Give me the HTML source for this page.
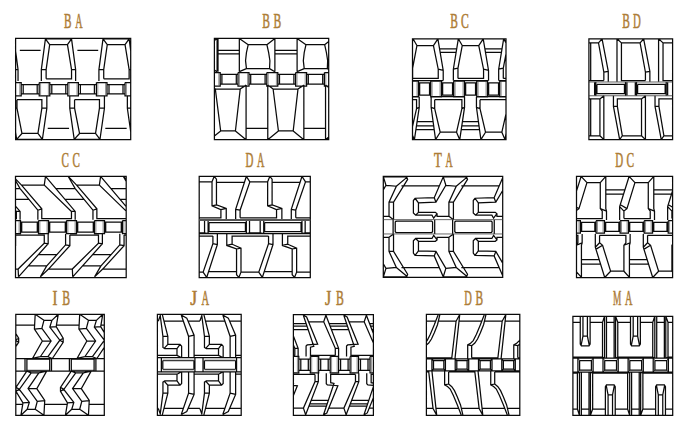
<!DOCTYPE html>
<html><head><meta charset="utf-8"><title>Track patterns</title>
<style>html,body{margin:0;padding:0;background:#fff;}body{width:692px;height:426px;overflow:hidden;font-family:"Liberation Serif",serif;}svg{display:block;}</style>
</head><body>
<svg width="692" height="426" viewBox="0 0 692 426">
<g fill="none" stroke="#0a0a0a" stroke-width="1.25" stroke-linejoin="miter">
<path d="M15.60 38.40 L130.70 38.40 L130.70 139.70 L15.60 139.70 Z M15.60 51.17 L18.04 69.55 L18.04 81.10 M15.60 69.55 L18.04 69.55 M19.82 50.35 L40.62 50.35 M41.33 81.10 L41.33 69.55 L45.42 38.80 L71.54 38.80 L75.63 69.55 L75.63 81.10 M46.13 78.79 L46.13 69.55 L49.68 44.66 L67.46 44.66 L71.54 69.55 L71.54 78.79 L46.13 78.79 M41.33 69.55 L46.13 69.55 M71.54 69.55 L75.63 69.55 M45.42 38.80 L49.68 44.66 M71.54 38.80 L67.46 44.66 M77.41 50.35 L98.21 50.35 M98.92 81.10 L98.92 69.55 L103.01 38.80 L129.13 38.80 L130.70 50.57 M103.72 78.79 L103.72 69.55 L107.27 44.66 L125.05 44.66 L129.13 69.55 L129.13 78.79 L103.72 78.79 M98.92 69.55 L103.72 69.55 M129.13 69.55 L130.70 69.55 M103.01 38.80 L107.27 44.66 M129.13 38.80 L125.05 44.66 M15.60 82.60 L21.20 82.60 L21.20 95.80 L15.60 95.80 M21.20 84.50 L39.20 84.50 M21.20 93.90 L39.20 93.90 M23.20 84.50 L23.20 93.90 M37.20 84.50 L37.20 93.90 M39.20 82.60 L49.80 82.60 L49.80 95.80 L39.20 95.80 L39.20 82.60 M49.80 84.50 L67.80 84.50 M49.80 93.90 L67.80 93.90 M51.80 84.50 L51.80 93.90 M65.80 84.50 L65.80 93.90 M67.80 82.60 L78.40 82.60 L78.40 95.80 L67.80 95.80 L67.80 82.60 M78.40 84.50 L96.40 84.50 M78.40 93.90 L96.40 93.90 M80.40 84.50 L80.40 93.90 M94.40 84.50 L94.40 93.90 M96.40 82.60 L107.00 82.60 L107.00 95.80 L96.40 95.80 L96.40 82.60 M107.00 84.50 L125.00 84.50 M107.00 93.90 L125.00 93.90 M109.00 84.50 L109.00 93.90 M123.00 84.50 L123.00 93.90 M125.00 82.60 L130.70 82.60 M130.70 95.80 L125.00 95.80 L125.00 82.60 M15.60 132.17 L16.62 139.32 L42.39 139.32 L46.84 108.22 L46.84 95.77 M16.98 99.69 L41.86 99.69 L41.86 108.22 L37.95 133.46 L21.95 133.46 L16.98 108.22 L16.98 99.69 M15.60 108.22 L16.98 108.22 M41.86 108.22 L46.84 108.22 M16.62 139.32 L21.95 133.46 M42.39 139.32 L37.95 133.46 M47.73 128.30 L69.06 128.30 M69.77 95.77 L69.77 108.22 L74.21 139.32 L99.98 139.32 L104.43 108.22 L104.43 95.77 M74.57 99.69 L99.45 99.69 L99.45 108.22 L95.54 133.46 L79.54 133.46 L74.57 108.22 L74.57 99.69 M69.77 108.22 L74.57 108.22 M99.45 108.22 L104.43 108.22 M74.21 139.32 L79.54 133.46 M99.98 139.32 L95.54 133.46 M105.32 128.30 L126.65 128.30 M127.36 95.77 L127.36 108.22 L130.70 131.62 M127.36 108.22 L130.70 108.22 M214.40 38.40 L328.70 38.40 L328.70 139.70 L214.40 139.70 Z M217.11 38.44 L217.11 71.68 M217.11 38.44 L214.40 40.55 M217.11 71.68 L214.40 70.15 M217.11 50.35 L239.33 50.35 M217.11 53.91 L239.33 53.91 M239.33 38.44 L239.33 71.68 M274.88 38.44 L274.88 71.68 M248.22 44.66 L266.88 44.66 L268.66 52.66 L269.90 60.66 L269.54 68.66 L246.44 68.66 L245.55 60.66 L246.44 52.66 L248.22 44.66 M239.33 38.44 L248.22 44.66 M274.88 38.44 L266.88 44.66 M239.33 71.68 L246.44 68.66 M274.88 71.68 L269.54 68.66 M274.88 50.35 L297.10 50.35 M274.88 53.91 L297.10 53.91 M297.10 38.44 L297.10 71.68 M305.98 44.66 L324.65 44.66 L326.42 52.66 L327.67 60.66 L327.31 68.66 L304.21 68.66 L303.32 60.66 L304.21 52.66 L305.98 44.66 M297.10 38.44 L305.98 44.66 M328.70 41.51 L324.65 44.66 M297.10 71.68 L304.21 68.66 M328.70 69.45 L327.31 68.66 M218.00 38.44 L218.00 71.68 M214.40 72.50 L220.20 72.50 L220.20 86.00 L214.40 86.00 M220.20 74.30 L238.00 74.30 M220.20 84.20 L238.00 84.20 M221.90 74.30 L221.90 84.20 M236.30 74.30 L236.30 84.20 M238.00 72.50 L249.00 72.50 L249.00 86.00 L238.00 86.00 L238.00 72.50 M249.00 74.30 L266.80 74.30 M249.00 84.20 L266.80 84.20 M250.70 74.30 L250.70 84.20 M265.10 74.30 L265.10 84.20 M266.80 72.50 L277.80 72.50 L277.80 86.00 L266.80 86.00 L266.80 72.50 M277.80 74.30 L295.60 74.30 M277.80 84.20 L295.60 84.20 M279.50 74.30 L279.50 84.20 M293.90 74.30 L293.90 84.20 M295.60 72.50 L306.60 72.50 L306.60 86.00 L295.60 86.00 L295.60 72.50 M306.60 74.30 L324.40 74.30 M306.60 84.20 L324.40 84.20 M308.30 74.30 L308.30 84.20 M322.70 74.30 L322.70 84.20 M324.40 72.50 L328.70 72.50 M328.70 86.00 L324.40 86.00 L324.40 72.50 M246.08 85.11 L246.08 139.68 M215.33 89.02 L240.22 89.02 L235.42 130.97 L220.66 130.97 L215.33 89.02 M214.40 88.34 L215.33 89.02 M246.08 85.11 L240.22 89.02 M214.40 136.08 L220.66 130.97 M246.08 139.68 L235.42 130.97 M246.08 128.30 L267.77 128.30 M267.77 85.11 L267.77 139.68 M303.85 85.11 L303.85 139.68 M273.10 89.02 L297.98 89.02 L293.19 130.97 L278.43 130.97 L273.10 89.02 M267.77 85.11 L273.10 89.02 M303.85 85.11 L297.98 89.02 M267.77 139.68 L278.43 130.97 M303.85 139.68 L293.19 130.97 M303.85 128.30 L325.54 128.30 M325.54 85.11 L325.54 139.68 M325.54 85.11 L328.70 87.43 M325.54 139.68 L328.70 137.09 M412.50 38.80 L506.00 38.80 L506.00 139.70 L412.50 139.70 Z M412.50 41.84 L413.00 38.80 L437.88 38.80 L443.22 70.44 L443.22 80.57 M412.64 78.44 L412.64 68.13 L416.91 45.55 L433.44 45.55 L438.24 69.19 L438.24 78.44 L412.64 78.44 M412.50 68.16 L412.64 68.13 M438.24 69.19 L443.22 70.44 M413.00 38.80 L416.91 45.55 M437.88 38.80 L433.44 45.55 M440.02 48.93 L456.55 48.93 M440.55 52.49 L456.01 52.49 M412.50 80.57 L443.22 80.57 M453.35 80.57 L453.35 69.19 L458.32 38.80 L483.21 38.80 L488.54 70.44 L488.54 80.57 M457.97 78.44 L457.97 68.13 L462.23 45.55 L478.76 45.55 L483.56 69.19 L483.56 78.44 L457.97 78.44 M453.35 69.19 L457.97 68.13 M483.56 69.19 L488.54 70.44 M458.32 38.80 L462.23 45.55 M483.21 38.80 L478.76 45.55 M485.34 48.93 L501.87 48.93 M485.87 52.49 L501.34 52.49 M453.35 80.57 L488.54 80.57 M498.67 80.57 L498.67 69.19 L503.65 38.80 L506.00 38.80 M503.29 78.44 L503.29 68.13 L506.00 53.81 M506.00 78.44 L503.29 78.44 M498.67 69.19 L503.29 68.13 M503.65 38.80 L506.00 42.86 M498.67 80.57 L506.00 80.57 M412.50 81.10 L418.44 81.10 L418.44 96.80 L412.50 96.80 M418.44 82.90 L430.74 82.90 M418.44 95.00 L430.74 95.00 M419.64 82.90 L419.64 95.00 M429.54 82.90 L429.54 95.00 M430.74 81.10 L441.44 81.10 L441.44 96.80 L430.74 96.80 L430.74 81.10 M441.44 82.90 L453.74 82.90 M441.44 95.00 L453.74 95.00 M442.64 82.90 L442.64 95.00 M452.54 82.90 L452.54 95.00 M453.74 81.10 L464.44 81.10 L464.44 96.80 L453.74 96.80 L453.74 81.10 M464.44 82.90 L476.74 82.90 M464.44 95.00 L476.74 95.00 M465.64 82.90 L465.64 95.00 M475.54 82.90 L475.54 95.00 M476.74 81.10 L487.44 81.10 L487.44 96.80 L476.74 96.80 L476.74 81.10 M487.44 82.90 L499.74 82.90 M487.44 95.00 L499.74 95.00 M488.64 82.90 L488.64 95.00 M498.54 82.90 L498.54 95.00 M499.74 81.10 L506.00 81.10 M506.00 96.80 L499.74 96.80 L499.74 81.10 M419.22 96.66 L419.22 107.33 L414.42 139.68 M412.50 99.69 L416.55 99.69 L416.55 108.57 L412.50 126.54 M416.55 108.57 L419.22 107.33 M414.42 139.68 L412.50 135.20 M416.91 121.55 L433.44 121.55 M416.55 125.99 L433.97 125.99 M416.20 129.55 L434.33 129.55 M412.50 96.66 L419.22 96.66 M431.13 96.66 L431.13 107.33 L435.57 139.68 M464.54 96.66 L464.54 107.33 L459.75 139.68 M434.68 99.69 L461.88 99.69 L461.88 108.57 L456.55 132.21 L440.19 132.21 L434.68 108.57 L434.68 99.69 M431.13 107.33 L434.68 108.57 M461.88 108.57 L464.54 107.33 M435.57 139.68 L440.19 132.21 M459.75 139.68 L456.55 132.21 M462.23 121.55 L478.76 121.55 M461.88 125.99 L479.30 125.99 M461.52 129.55 L479.65 129.55 M431.13 96.66 L464.54 96.66 M476.45 96.66 L476.45 107.33 L480.90 139.68 M506.00 133.42 L505.07 139.68 M480.01 99.69 L506.00 99.69 M506.00 113.91 L501.87 132.21 L485.52 132.21 L480.01 108.57 L480.01 99.69 M476.45 107.33 L480.01 108.57 M480.90 139.68 L485.52 132.21 M505.07 139.68 L501.87 132.21 M476.45 96.66 L506.00 96.66 M588.90 38.80 L672.60 38.80 L672.60 139.70 L588.90 139.70 Z M588.90 80.57 L603.84 80.57 M602.06 38.80 L608.28 71.33 L608.28 81.64 M588.90 42.89 L598.51 42.89 L603.84 72.22 L603.84 80.57 M598.51 42.89 L602.06 38.80 M603.84 72.22 L608.28 71.33 M616.99 38.80 L616.99 81.64 M621.44 42.89 L621.44 80.57 L645.43 80.57 M643.65 38.80 L649.87 71.33 L649.87 81.64 M621.44 42.89 L640.10 42.89 L645.43 72.22 L645.43 80.57 M616.99 38.80 L621.44 42.89 M640.10 42.89 L643.65 38.80 M645.43 72.22 L649.87 71.33 M658.58 38.80 L658.58 81.64 M663.03 42.89 L663.03 80.57 L672.60 80.57 M663.03 42.89 L672.60 42.89 M658.58 38.80 L663.03 42.89 M595.84 81.91 L595.84 95.77 M594.60 82.27 L594.60 95.42 M596.91 84.40 L624.46 84.40 L624.46 93.64 L596.91 93.64 L596.91 84.40 M625.52 81.91 L625.52 95.77 M636.54 81.91 L636.54 95.77 M626.95 82.27 L626.95 95.42 M635.30 82.27 L635.30 95.42 M637.61 84.40 L665.16 84.40 L665.16 93.64 L637.61 93.64 L637.61 84.40 M666.23 81.91 L666.23 95.77 M667.65 82.27 L667.65 95.42 M590.69 42.89 L590.69 80.57 M590.69 98.97 L590.69 135.77 M603.84 95.77 L603.84 139.68 M599.93 98.97 L599.93 135.77 M599.93 98.97 L588.90 98.97 M588.90 135.77 L599.93 135.77 M599.93 98.97 L603.84 95.77 M599.93 135.77 L603.84 139.68 M645.43 95.77 L645.43 139.68 M641.52 98.97 L641.52 135.77 M613.44 95.77 L613.44 106.44 L619.66 139.68 M641.52 98.97 L617.35 98.97 L617.35 106.44 L622.32 135.77 L641.52 135.77 M641.52 98.97 L645.43 95.77 M641.52 135.77 L645.43 139.68 M613.44 106.44 L617.35 106.44 M619.66 139.68 L622.32 135.77 M655.03 95.77 L655.03 106.44 L661.25 139.68 M672.60 98.97 L658.94 98.97 L658.94 106.44 L663.92 135.77 L672.60 135.77 M655.03 106.44 L658.94 106.44 M661.25 139.68 L663.92 135.77 M15.50 176.40 L126.20 176.40 L126.20 277.50 L15.50 277.50 Z M15.50 206.05 L20.09 211.46 L20.09 219.64 M15.50 210.63 L16.35 211.46 L16.35 218.57 L15.50 218.57 M16.35 211.46 L20.09 211.46 M15.50 180.53 L20.09 188.53 L37.86 210.22 L37.86 219.64 M45.50 176.44 L75.19 211.46 L75.19 219.64 M21.51 185.15 L44.26 185.15 L71.46 211.46 L71.46 218.57 L41.77 218.57 L41.77 208.79 L21.51 185.15 M15.50 178.89 L21.51 185.15 M45.50 176.44 L44.26 185.15 M37.86 210.22 L41.77 208.79 M71.46 211.46 L75.19 211.46 M15.50 188.53 L20.09 188.53 M15.50 199.37 L28.97 199.37 M68.26 176.44 L75.19 188.53 L92.96 210.22 L92.96 219.64 M100.61 176.44 L126.20 206.64 M76.61 185.15 L99.36 185.15 L126.20 211.11 M126.20 218.57 L96.87 218.57 L96.87 208.79 L76.61 185.15 M68.26 176.44 L76.61 185.15 M100.61 176.44 L99.36 185.15 M92.96 210.22 L96.87 208.79 M55.75 188.53 L75.19 188.53 M64.94 199.37 L84.08 199.37 M123.36 176.44 L126.20 181.40 M123.36 176.44 L126.20 179.41 M110.85 188.53 L126.20 188.53 M120.04 199.37 L126.20 199.37 M15.50 220.60 L20.50 220.60 L20.50 233.70 L15.50 233.70 M20.50 222.10 L38.50 222.10 M20.50 232.20 L38.50 232.20 M21.70 222.10 L21.70 232.20 M37.30 222.10 L37.30 232.20 M38.50 220.60 L48.50 220.60 L48.50 233.70 L38.50 233.70 L38.50 220.60 M48.50 222.10 L66.50 222.10 M48.50 232.20 L66.50 232.20 M49.70 222.10 L49.70 232.20 M65.30 222.10 L65.30 232.20 M66.50 220.60 L76.50 220.60 L76.50 233.70 L66.50 233.70 L66.50 220.60 M76.50 222.10 L94.50 222.10 M76.50 232.20 L94.50 232.20 M77.70 222.10 L77.70 232.20 M93.30 222.10 L93.30 232.20 M94.50 220.60 L104.50 220.60 L104.50 233.70 L94.50 233.70 L94.50 220.60 M104.50 222.10 L122.50 222.10 M104.50 232.20 L122.50 232.20 M105.70 222.10 L105.70 232.20 M121.30 222.10 L121.30 232.20 M122.50 220.60 L126.20 220.60 M126.20 233.70 L122.50 233.70 L122.50 220.60 M48.17 233.64 L48.17 243.77 L18.49 276.83 M15.64 235.06 L15.64 245.73 L15.50 245.88 M15.50 269.01 L18.13 269.01 L44.26 243.24 L44.26 235.06 L15.64 235.06 M15.50 245.70 L15.64 245.73 M44.26 243.24 L48.17 243.77 M18.49 276.83 L18.13 269.01 M65.59 233.64 L65.59 244.84 L46.57 266.17 L40.35 276.83 M102.38 233.64 L102.38 243.77 L72.70 276.83 M69.86 235.06 L69.86 245.73 L48.53 269.01 L72.34 269.01 L98.47 243.24 L98.47 235.06 L69.86 235.06 M65.59 244.84 L69.86 245.73 M98.47 243.24 L102.38 243.77 M40.35 276.83 L48.53 269.01 M72.70 276.83 L72.34 269.01 M38.44 254.62 L56.87 254.62 M28.22 265.99 L46.73 265.99 M119.80 233.64 L119.80 244.84 L100.78 266.17 L94.56 276.83 M124.07 235.06 L124.07 245.73 L102.74 269.01 L126.20 269.01 M126.20 235.06 L124.07 235.06 M119.80 244.84 L124.07 245.73 M94.56 276.83 L102.74 269.01 M92.65 254.62 L111.09 254.62 M82.43 265.99 L100.94 265.99 M199.20 176.40 L310.30 176.40 L310.30 277.50 L199.20 277.50 Z M217.35 234.25 L217.35 244.56 L206.69 277.45 M214.15 176.44 L216.46 179.11 L216.46 204.88 L226.24 208.44 L226.24 219.64 M199.20 181.78 L212.02 181.78 L212.02 205.77 L220.91 209.68 L220.91 217.86 L199.20 217.86 M212.91 236.03 L212.91 243.68 L203.13 272.11 L199.20 272.11 M199.20 236.03 L212.91 236.03 M217.35 244.56 L212.91 243.68 M206.69 277.45 L203.13 272.11 M212.02 181.78 L214.15 176.44 M216.46 204.88 L212.02 205.77 M226.24 208.44 L220.91 209.68 M216.46 182.31 L244.37 182.31 M235.66 219.64 L235.66 209.33 L246.32 176.44 M272.99 234.25 L272.99 244.56 L262.32 277.45 M269.79 176.44 L272.10 179.11 L272.10 204.88 L281.87 208.44 L281.87 219.64 M238.86 277.45 L236.55 274.78 L236.55 249.01 L226.77 245.45 L226.77 234.25 M240.10 217.86 L240.10 210.22 L249.88 181.78 L267.65 181.78 L267.65 205.77 L276.54 209.68 L276.54 217.86 L240.10 217.86 M268.54 236.03 L268.54 243.68 L258.77 272.11 L240.99 272.11 L240.99 248.12 L232.10 244.21 L232.10 236.03 L268.54 236.03 M235.66 209.33 L240.10 210.22 M272.99 244.56 L268.54 243.68 M246.32 176.44 L249.88 181.78 M262.32 277.45 L258.77 272.11 M267.65 181.78 L269.79 176.44 M240.99 272.11 L238.86 277.45 M272.10 204.88 L267.65 205.77 M236.55 249.01 L240.99 248.12 M281.87 208.44 L276.54 209.68 M226.77 245.45 L232.10 244.21 M272.10 182.31 L300.00 182.31 M236.55 271.58 L208.64 271.58 M291.29 219.64 L291.29 209.33 L301.96 176.44 M294.49 277.45 L292.18 274.78 L292.18 249.01 L282.41 245.45 L282.41 234.25 M295.74 217.86 L295.74 210.22 L305.51 181.78 L310.30 181.78 M310.30 217.86 L295.74 217.86 M310.30 272.11 L296.63 272.11 L296.63 248.12 L287.74 244.21 L287.74 236.03 L310.30 236.03 M291.29 209.33 L295.74 210.22 M301.96 176.44 L305.51 181.78 M296.63 272.11 L294.49 277.45 M292.18 249.01 L296.63 248.12 M282.41 245.45 L287.74 244.21 M292.18 271.58 L264.28 271.58 M199.20 233.64 L310.30 233.64 M208.11 219.64 L208.11 233.68 M204.55 220.35 L204.55 232.97 M208.11 219.64 L204.55 220.35 M208.11 233.68 L204.55 232.97 M199.20 220.35 L204.55 220.35 M199.20 232.97 L204.55 232.97 M209.00 222.66 L245.44 222.66 L245.44 231.72 L209.00 231.72 L209.00 222.66 M246.32 219.64 L246.32 233.68 M263.74 219.64 L263.74 233.68 M249.52 220.35 L249.52 232.97 M260.19 220.35 L260.19 232.97 M246.32 219.64 L249.52 220.35 M263.74 219.64 L260.19 220.35 M246.32 233.68 L249.52 232.97 M263.74 233.68 L260.19 232.97 M249.52 220.35 L260.19 220.35 M249.52 232.97 L260.19 232.97 M264.63 222.66 L301.07 222.66 L301.07 231.72 L264.63 231.72 L264.63 222.66 M301.96 219.64 L301.96 233.68 M305.16 220.35 L305.16 232.97 M301.96 219.64 L305.16 220.35 M301.96 233.68 L305.16 232.97 M305.16 220.35 L310.30 220.35 M305.16 232.97 L310.30 232.97 M383.30 176.40 L502.70 176.40 L502.70 277.40 L383.30 277.40 Z M393.53 219.67 L393.53 202.19 L407.63 179.41 L406.84 177.38 L405.94 176.82 L383.38 176.82 L383.30 177.01 M393.53 233.93 L393.53 251.41 L407.63 274.19 L406.84 276.22 L405.94 276.78 L383.38 276.78 L383.30 276.59 M385.98 185.28 L396.35 186.18 L389.02 202.19 L389.02 216.29 L383.30 216.29 M383.30 189.84 L385.98 185.28 M385.98 268.32 L396.35 267.42 L389.02 251.41 L389.02 237.31 L383.30 237.31 M383.30 263.76 L385.98 268.32 M396.35 186.18 L406.84 177.38 M396.35 267.42 L406.84 276.22 M393.53 202.19 L389.02 202.19 M393.53 251.41 L389.02 251.41 M393.53 219.67 L389.02 216.29 M393.53 233.93 L389.02 237.31 M383.38 176.82 L385.98 185.28 M383.38 276.78 L385.98 268.32 M401.43 185.95 L439.55 185.95 M401.43 267.65 L439.55 267.65 M453.42 219.67 L453.42 202.19 L467.52 179.41 L466.73 177.38 L465.82 176.82 L443.27 176.82 L434.25 197.68 L415.07 198.25 L413.38 200.50 L413.38 212.91 L415.64 215.16 L431.99 215.16 L433.68 218.21 L437.07 213.70 M453.42 233.93 L453.42 251.41 L467.52 274.19 L466.73 276.22 L465.82 276.78 L443.27 276.78 L434.25 255.92 L415.07 255.35 L413.38 253.10 L413.38 240.69 L415.64 238.44 L431.99 238.44 L433.68 235.39 L437.07 239.90 M445.86 185.28 L456.24 186.18 L448.91 202.19 L448.91 216.29 L437.07 216.29 L437.07 213.70 L435.37 212.34 L418.46 212.34 L418.46 202.76 L435.94 202.19 L445.86 185.28 M445.86 268.32 L456.24 267.42 L448.91 251.41 L448.91 237.31 L437.07 237.31 L437.07 239.90 L435.37 241.26 L418.46 241.26 L418.46 250.84 L435.94 251.41 L445.86 268.32 M456.24 186.18 L466.73 177.38 M456.24 267.42 L466.73 276.22 M415.07 198.25 L418.46 202.76 M415.07 255.35 L418.46 250.84 M415.64 215.16 L418.46 212.34 M415.64 238.44 L418.46 241.26 M434.25 197.68 L435.94 202.19 M434.25 255.92 L435.94 251.41 M453.42 202.19 L448.91 202.19 M453.42 251.41 L448.91 251.41 M453.42 219.67 L448.91 216.29 M453.42 233.93 L448.91 237.31 M443.27 176.82 L445.86 185.28 M443.27 276.78 L445.86 268.32 M461.31 185.95 L499.43 185.95 M461.31 267.65 L499.43 267.65 M502.70 177.87 L494.13 197.68 L474.96 198.25 L473.27 200.50 L473.27 212.91 L475.52 215.16 L491.88 215.16 L493.57 218.21 L496.95 213.70 M502.70 275.73 L494.13 255.92 L474.96 255.35 L473.27 253.10 L473.27 240.69 L475.52 238.44 L491.88 238.44 L493.57 235.39 L496.95 239.90 M502.70 216.29 L496.95 216.29 L496.95 213.70 L495.26 212.34 L478.34 212.34 L478.34 202.76 L495.82 202.19 L502.70 190.47 M502.70 237.31 L496.95 237.31 L496.95 239.90 L495.26 241.26 L478.34 241.26 L478.34 250.84 L495.82 251.41 L502.70 263.13 M474.96 198.25 L478.34 202.76 M474.96 255.35 L478.34 250.84 M475.52 215.16 L478.34 212.34 M475.52 238.44 L478.34 241.26 M494.13 197.68 L495.82 202.19 M494.13 255.92 L495.82 251.41 M396.13 221.06 L431.68 221.06 L432.57 221.95 L432.57 231.65 L431.68 232.54 L396.13 232.54 L395.24 231.65 L395.24 221.95 L396.13 221.06 M393.11 219.64 L393.11 233.96 M434.70 219.64 L434.70 233.96 M455.68 221.06 L491.22 221.06 L492.11 221.95 L492.11 231.65 L491.22 232.54 L455.68 232.54 L454.79 231.65 L454.79 221.95 L455.68 221.06 M452.65 219.64 L452.65 233.96 M494.25 219.64 L494.25 233.96 M576.50 176.40 L672.60 176.40 L672.60 277.50 L576.50 277.50 Z M576.50 189.77 L576.93 189.77 M576.50 191.16 L581.09 176.44 M605.79 176.44 L605.79 208.62 L606.50 211.10 L606.50 219.99 M581.44 277.46 L581.44 245.28 L582.15 242.80 L582.15 233.91 M576.50 210.64 L578.95 208.62 L586.95 182.66 L600.28 182.66 L600.28 208.62 L602.24 211.10 L602.24 218.57 L576.50 218.57 M576.50 244.56 L577.89 242.80 L577.89 235.33 L576.50 235.33 M576.50 207.17 L578.95 208.62 M581.09 176.44 L586.95 182.66 M605.79 176.44 L600.28 182.66 M581.44 277.46 L576.50 271.88 M600.28 208.62 L606.50 211.10 M576.50 245.06 L582.15 242.80 M605.79 189.77 L624.92 189.77 M581.44 264.13 L600.57 264.13 M605.79 194.22 L623.54 194.22 M581.44 259.68 L599.19 259.68 M619.66 219.99 L619.66 206.66 L629.08 176.44 M595.31 233.91 L595.31 247.24 L604.73 277.46 M653.78 176.44 L653.78 208.62 L654.50 211.10 L654.50 219.99 M629.43 277.46 L629.43 245.28 L630.14 242.80 L630.14 233.91 M623.92 218.57 L623.92 211.10 L626.95 208.62 L634.94 182.66 L648.27 182.66 L648.27 208.62 L650.23 211.10 L650.23 218.57 L623.92 218.57 M599.57 235.33 L599.57 242.80 L602.59 245.28 L610.59 271.24 L623.92 271.24 L623.92 245.28 L625.88 242.80 L625.88 235.33 L599.57 235.33 M619.66 206.66 L623.92 211.10 M595.31 247.24 L599.57 242.80 M620.90 205.06 L626.95 208.62 M596.55 248.84 L602.59 245.28 M629.08 176.44 L634.94 182.66 M604.73 277.46 L610.59 271.24 M653.78 176.44 L648.27 182.66 M629.43 277.46 L623.92 271.24 M648.27 208.62 L654.50 211.10 M623.92 245.28 L630.14 242.80 M653.78 189.77 L672.60 189.77 M629.43 264.13 L648.56 264.13 M653.78 194.22 L671.53 194.22 M629.43 259.68 L647.18 259.68 M667.65 219.99 L667.65 206.66 L672.60 190.78 M643.30 233.91 L643.30 247.24 L652.72 277.46 M671.92 218.57 L671.92 211.10 L672.60 210.54 M672.60 218.57 L671.92 218.57 M647.56 235.33 L647.56 242.80 L650.59 245.28 L658.58 271.24 L671.92 271.24 L671.92 245.28 L672.60 244.41 M672.60 235.33 L647.56 235.33 M667.65 206.66 L671.92 211.10 M643.30 247.24 L647.56 242.80 M668.89 205.06 L672.60 207.24 M644.54 248.84 L650.59 245.28 M652.72 277.46 L658.58 271.24 M672.60 272.01 L671.92 271.24 M671.92 245.28 L672.60 245.01 M576.50 220.70 L580.40 220.70 L580.40 233.00 L576.50 233.00 M580.40 222.40 L596.05 222.40 M580.40 231.30 L596.05 231.30 M581.60 222.40 L581.60 231.30 M594.85 222.40 L594.85 231.30 M596.05 220.70 L604.45 220.70 L604.45 233.00 L596.05 233.00 L596.05 220.70 M604.45 222.40 L620.10 222.40 M604.45 231.30 L620.10 231.30 M605.65 222.40 L605.65 231.30 M618.90 222.40 L618.90 231.30 M620.10 220.70 L628.50 220.70 L628.50 233.00 L620.10 233.00 L620.10 220.70 M628.50 222.40 L644.15 222.40 M628.50 231.30 L644.15 231.30 M629.70 222.40 L629.70 231.30 M642.95 222.40 L642.95 231.30 M644.15 220.70 L652.55 220.70 L652.55 233.00 L644.15 233.00 L644.15 220.70 M652.55 222.40 L668.20 222.40 M652.55 231.30 L668.20 231.30 M653.75 222.40 L653.75 231.30 M667.00 222.40 L667.00 231.30 M668.20 220.70 L672.60 220.70 M672.60 233.00 L668.20 233.00 L668.20 220.70 M15.80 314.30 L104.30 314.30 L104.30 415.30 L15.80 415.30 Z M43.94 415.30 L44.74 400.52 L36.79 388.60 L46.65 371.11 M15.80 333.53 L18.67 338.29 L18.67 342.27 L15.80 346.57 M20.90 415.30 L22.96 402.90 L15.97 391.30 L15.97 387.32 L26.78 371.11 M35.20 409.26 L37.27 401.31 L28.05 388.60 L38.86 372.86 M27.25 409.26 L29.32 402.43 L19.31 389.39 L31.23 372.86 M43.94 415.30 L35.20 409.26 M20.90 415.30 L27.25 409.26 M44.74 400.52 L37.27 401.31 M29.32 402.43 L22.96 402.90 M36.79 388.60 L28.05 388.60 M15.80 339.93 L18.67 338.29 M19.31 389.39 L15.97 391.30 M15.80 340.49 L18.67 342.27 M19.31 389.39 L15.97 387.32 M46.65 371.11 L38.86 372.86 M26.78 371.11 L31.23 372.86 M35.20 409.26 L27.25 409.26 M38.86 372.86 L31.23 372.86 M15.80 325.10 L34.57 325.10 M22.80 404.49 L15.80 404.49 M35.20 314.29 L34.41 329.07 L42.35 341.00 L32.50 358.48 M88.45 415.30 L89.25 400.52 L81.30 388.60 L91.15 371.11 M58.25 314.29 L56.18 326.69 L63.18 338.29 L63.18 342.27 L52.37 358.48 M65.40 415.30 L67.47 402.90 L60.48 391.30 L60.48 387.32 L71.29 371.11 M43.94 320.33 L41.88 328.28 L51.10 341.00 L40.29 356.73 M79.71 409.26 L81.78 401.31 L72.56 388.60 L83.37 372.86 M51.89 320.33 L49.83 327.17 L59.84 340.20 L47.92 356.73 M71.76 409.26 L73.83 402.43 L63.81 389.39 L75.74 372.86 M35.20 314.29 L43.94 320.33 M88.45 415.30 L79.71 409.26 M58.25 314.29 L51.89 320.33 M65.40 415.30 L71.76 409.26 M34.41 329.07 L41.88 328.28 M89.25 400.52 L81.78 401.31 M49.83 327.17 L56.18 326.69 M73.83 402.43 L67.47 402.90 M42.35 341.00 L51.10 341.00 M81.30 388.60 L72.56 388.60 M59.84 340.20 L63.18 338.29 M63.81 389.39 L60.48 391.30 M59.84 340.20 L63.18 342.27 M63.81 389.39 L60.48 387.32 M32.50 358.48 L40.29 356.73 M91.15 371.11 L83.37 372.86 M52.37 358.48 L47.92 356.73 M71.29 371.11 L75.74 372.86 M43.94 320.33 L51.89 320.33 M79.71 409.26 L71.76 409.26 M40.29 356.73 L47.92 356.73 M83.37 372.86 L75.74 372.86 M56.34 325.10 L79.07 325.10 M67.31 404.49 L44.58 404.49 M79.71 314.29 L78.92 329.07 L86.86 341.00 L77.01 358.48 M102.76 314.29 L100.69 326.69 L104.30 332.68 M104.30 347.35 L96.88 358.48 M88.45 320.33 L86.39 328.28 L95.61 341.00 L84.80 356.73 M96.40 320.33 L94.33 327.17 L104.30 340.14 M104.30 340.27 L92.43 356.73 M79.71 314.29 L88.45 320.33 M102.76 314.29 L96.40 320.33 M78.92 329.07 L86.39 328.28 M94.33 327.17 L100.69 326.69 M86.86 341.00 L95.61 341.00 M77.01 358.48 L84.80 356.73 M96.88 358.48 L92.43 356.73 M88.45 320.33 L96.40 320.33 M84.80 356.73 L92.43 356.73 M100.85 325.10 L104.30 325.10 M104.30 404.49 L89.09 404.49 M15.80 358.50 L104.30 358.50 M15.80 371.20 L104.30 371.20 M25.00 358.50 L25.00 371.20 M26.90 358.50 L26.90 371.20 M49.70 358.50 L49.70 371.20 M51.50 358.50 L51.50 371.20 M69.40 358.50 L69.40 371.20 M71.30 358.50 L71.30 371.20 M94.10 358.50 L94.10 371.20 M95.90 358.50 L95.90 371.20 M157.40 314.30 L241.20 314.30 L241.20 415.30 L157.40 415.30 Z M160.25 315.66 L162.94 336.43 L162.94 347.43 L164.77 348.65 L176.99 348.65 L176.99 355.37 L157.40 355.37 M160.25 413.94 L162.94 393.17 L162.94 382.17 L164.77 380.95 L176.99 380.95 L176.99 374.23 L157.40 374.23 M162.33 314.69 L167.83 336.43 L167.83 344.37 L180.04 344.37 L181.63 346.20 L181.63 357.81 M162.33 414.91 L167.83 393.17 L167.83 385.23 L180.04 385.23 L181.63 383.40 L181.63 371.79 M160.50 315.05 L158.42 320.80 M160.50 414.55 L158.42 408.80 M162.94 336.43 L167.83 336.43 M162.94 393.17 L167.83 393.17 M167.83 344.37 L164.16 348.40 M167.83 385.23 L164.16 381.20 M180.04 344.37 L176.99 348.65 M180.04 385.23 L176.99 380.95 M181.63 357.81 L176.99 355.37 M181.63 371.79 L176.99 374.23 M157.40 321.16 L158.42 321.16 M157.40 408.44 L158.42 408.44 M163.92 321.16 L183.34 321.16 M163.92 408.44 L183.34 408.44 M181.26 315.05 L188.59 336.43 L188.59 357.81 M181.26 414.55 L188.59 393.17 L188.59 371.79 M181.26 315.05 L186.76 318.11 L194.09 335.21 L194.09 357.81 M181.26 414.55 L186.76 411.49 L194.09 394.39 L194.09 371.79 M188.59 336.43 L194.09 335.21 M188.59 393.17 L194.09 394.39 M201.79 315.66 L204.47 336.43 L204.47 347.43 L206.31 348.65 L218.52 348.65 L218.52 355.37 L194.09 355.37 M201.79 413.94 L204.47 393.17 L204.47 382.17 L206.31 380.95 L218.52 380.95 L218.52 374.23 L194.09 374.23 M203.86 314.69 L209.36 336.43 L209.36 344.37 L221.58 344.37 L223.17 346.20 L223.17 357.81 M203.86 414.91 L209.36 393.17 L209.36 385.23 L221.58 385.23 L223.17 383.40 L223.17 371.79 M202.03 315.05 L199.95 320.80 M202.03 414.55 L199.95 408.80 M204.47 336.43 L209.36 336.43 M204.47 393.17 L209.36 393.17 M209.36 344.37 L205.70 348.40 M209.36 385.23 L205.70 381.20 M221.58 344.37 L218.52 348.65 M221.58 385.23 L218.52 380.95 M223.17 357.81 L218.52 355.37 M223.17 371.79 L218.52 374.23 M188.11 321.16 L199.95 321.16 M188.11 408.44 L199.95 408.44 M205.45 321.16 L224.88 321.16 M205.45 408.44 L224.88 408.44 M222.80 315.05 L230.13 336.43 L230.13 357.81 M222.80 414.55 L230.13 393.17 L230.13 371.79 M222.80 315.05 L228.30 318.11 L235.63 335.21 L235.63 357.81 M222.80 414.55 L228.30 411.49 L235.63 394.39 L235.63 371.79 M230.13 336.43 L235.63 335.21 M230.13 393.17 L235.63 394.39 M241.20 355.37 L235.63 355.37 M241.20 374.23 L235.63 374.23 M229.64 321.16 L241.20 321.16 M229.64 408.44 L241.20 408.44 M157.40 357.69 L241.20 357.69 M157.40 371.91 L241.20 371.91 M161.37 357.69 L161.37 371.91 M194.91 357.69 L194.91 371.91 M162.80 360.55 L162.80 369.37 M193.96 360.55 L193.96 369.37 M203.02 357.69 L203.02 371.91 M236.56 357.69 L236.56 371.91 M204.45 360.55 L204.45 369.37 M235.61 360.55 L235.61 369.37 M293.40 314.60 L373.40 314.60 L373.40 415.30 L293.40 415.30 Z M293.40 355.46 L294.82 355.46 M293.40 383.81 L293.51 383.48 L293.40 383.46 M293.40 374.44 L315.02 374.44 M293.40 395.49 L297.37 385.69 L293.40 385.40 M293.40 345.06 L294.82 348.29 L294.82 355.46 M293.40 408.08 L303.44 408.08 L315.02 381.61 L315.02 374.44 M305.64 414.69 L303.44 408.08 M293.40 335.97 L298.13 348.29 L298.13 356.56 M305.64 414.69 L318.33 381.61 L318.33 373.34 M294.82 348.29 L298.13 348.29 M315.02 381.61 L318.33 381.61 M293.40 323.70 L306.16 323.70 M308.90 406.20 L326.36 406.20 M293.40 326.01 L306.94 326.01 M309.78 403.89 L327.14 403.89 M293.40 329.54 L308.12 329.54 M311.14 400.36 L328.32 400.36 M303.31 315.21 L313.79 346.42 L310.48 347.19 L310.48 355.46 L335.29 355.46 M323.51 414.69 L333.99 383.48 L330.68 382.71 L330.68 374.44 L355.49 374.44 M303.31 315.21 L306.62 316.97 L317.65 344.21 L307.17 344.98 L306.07 346.09 L306.07 356.56 M323.51 414.69 L326.82 412.93 L337.85 385.69 L327.37 384.92 L326.27 383.81 L326.27 373.34 M308.60 321.82 L323.71 321.82 L335.29 348.29 L335.29 355.46 M328.80 408.08 L343.91 408.08 L355.49 381.61 L355.49 374.44 M325.92 315.21 L323.71 321.82 M346.12 414.69 L343.91 408.08 M325.92 315.21 L338.60 348.29 L338.60 356.56 M346.12 414.69 L358.80 381.61 L358.80 373.34 M335.29 348.29 L338.60 348.29 M355.49 381.61 L358.80 381.61 M329.17 323.70 L346.64 323.70 M349.37 406.20 L366.84 406.20 M330.06 326.01 L347.41 326.01 M350.26 403.89 L367.61 403.89 M331.41 329.54 L348.60 329.54 M351.61 400.36 L368.80 400.36 M343.79 315.21 L354.26 346.42 L350.95 347.19 L350.95 355.46 L373.40 355.46 M363.99 414.69 L373.40 386.65 M373.40 383.23 L371.15 382.71 L371.15 374.44 L373.40 374.44 M343.79 315.21 L347.09 316.97 L358.12 344.21 L347.65 344.98 L346.54 346.09 L346.54 356.56 M363.99 414.69 L367.29 412.93 L373.40 397.85 M373.40 385.33 L367.85 384.92 L366.74 383.81 L366.74 373.34 M349.08 321.82 L364.19 321.82 L373.40 342.88 M369.28 408.08 L373.40 408.08 M366.39 315.21 L364.19 321.82 M366.39 315.21 L373.40 333.48 M369.65 323.70 L373.40 323.70 M370.54 326.01 L373.40 326.01 M371.89 329.54 L373.40 329.54 M293.40 356.40 L298.80 356.40 L298.80 372.90 L293.40 372.90 M298.80 359.00 L310.30 359.00 M298.80 370.30 L310.30 370.30 M300.80 359.00 L300.80 370.30 M308.30 359.00 L308.30 370.30 M310.30 356.40 L318.70 356.40 L318.70 372.90 L310.30 372.90 L310.30 356.40 M318.70 359.00 L330.20 359.00 M318.70 370.30 L330.20 370.30 M320.70 359.00 L320.70 370.30 M328.20 359.00 L328.20 370.30 M330.20 356.40 L338.60 356.40 L338.60 372.90 L330.20 372.90 L330.20 356.40 M338.60 359.00 L350.10 359.00 M338.60 370.30 L350.10 370.30 M340.60 359.00 L340.60 370.30 M348.10 359.00 L348.10 370.30 M350.10 356.40 L358.50 356.40 L358.50 372.90 L350.10 372.90 L350.10 356.40 M358.50 359.00 L370.00 359.00 M358.50 370.30 L370.00 370.30 M360.50 359.00 L360.50 370.30 M368.00 359.00 L368.00 370.30 M370.00 356.40 L373.40 356.40 M373.40 372.90 L370.00 372.90 L370.00 356.40 M426.40 314.40 L519.80 314.40 L519.80 415.30 L426.40 415.30 Z M426.40 321.22 L435.58 321.22 M426.40 341.32 L427.15 340.61 L430.33 334.25 L434.31 324.72 L438.28 314.54 M426.40 344.99 L428.74 343.00 L431.44 339.02 L434.31 332.66 L437.49 324.72 L439.87 314.54 M438.76 321.22 L456.08 321.22 L451.79 357.78 L426.40 357.78 M426.40 408.48 L433.03 408.48 L428.74 371.92 L426.40 371.92 M459.74 314.54 L454.97 358.89 M436.69 415.16 L431.92 370.81 M459.74 314.54 L456.08 321.22 M436.69 415.16 L433.03 408.48 M459.10 321.22 L481.68 321.22 M436.05 408.48 L458.63 408.48 M467.69 358.89 L467.69 344.90 L470.55 343.16 L473.25 340.61 L476.43 334.25 L480.40 324.72 L484.38 314.54 M444.64 370.81 L444.64 384.80 L447.50 386.54 L450.20 389.09 L453.38 395.45 L457.35 404.98 L461.33 415.16 M471.66 357.78 L471.66 345.70 L474.84 343.00 L477.54 339.02 L480.40 332.66 L483.58 324.72 L485.97 314.54 M448.61 371.92 L448.61 384.00 L451.79 386.70 L454.49 390.68 L457.35 397.04 L460.53 404.98 L462.92 415.16 M467.69 344.90 L471.66 345.70 M444.64 384.80 L448.61 384.00 M484.85 321.22 L502.18 321.22 L497.89 357.78 L471.66 357.78 M461.81 408.48 L479.13 408.48 L474.84 371.92 L448.61 371.92 M505.84 314.54 L501.07 358.89 M482.79 415.16 L478.02 370.81 M505.84 314.54 L502.18 321.22 M482.79 415.16 L479.13 408.48 M505.20 321.22 L519.80 321.22 M482.15 408.48 L504.72 408.48 M513.78 358.89 L513.78 344.90 L516.65 343.16 L519.35 340.61 L519.80 339.71 M490.74 370.81 L490.74 384.80 L493.60 386.54 L496.30 389.09 L499.48 395.45 L503.45 404.98 L507.43 415.16 M517.76 357.78 L517.76 345.70 L519.80 343.96 M494.71 371.92 L494.71 384.00 L497.89 386.70 L500.59 390.68 L503.45 397.04 L506.63 404.98 L509.02 415.16 M513.78 344.90 L517.76 345.70 M490.74 384.80 L494.71 384.00 M519.80 357.78 L517.76 357.78 M507.90 408.48 L519.80 408.48 M519.80 371.92 L494.71 371.92 M426.40 358.89 L519.80 358.89 M426.40 370.81 L519.80 370.81 M431.92 358.89 L431.92 370.81 M445.43 358.89 L445.43 370.81 M431.92 359.37 L433.51 360.64 L443.84 360.64 L445.43 359.37 M431.92 370.33 L433.51 369.22 L443.84 369.22 L445.43 370.33 M433.51 360.64 L433.51 369.22 M443.84 360.64 L443.84 369.22 M455.21 358.89 L455.21 370.81 M468.72 358.89 L468.72 370.81 M455.21 359.37 L456.80 360.64 L467.13 360.64 L468.72 359.37 M455.21 370.33 L456.80 369.22 L467.13 369.22 L468.72 370.33 M456.80 360.64 L456.80 369.22 M467.13 360.64 L467.13 369.22 M478.50 358.89 L478.50 370.81 M492.01 358.89 L492.01 370.81 M478.50 359.37 L480.09 360.64 L490.42 360.64 L492.01 359.37 M478.50 370.33 L480.09 369.22 L490.42 369.22 L492.01 370.33 M480.09 360.64 L480.09 369.22 M490.42 360.64 L490.42 369.22 M501.78 358.89 L501.78 370.81 M515.29 358.89 L515.29 370.81 M501.78 359.37 L503.37 360.64 L513.71 360.64 L515.29 359.37 M501.78 370.33 L503.37 369.22 L513.71 369.22 L515.29 370.33 M503.37 360.64 L503.37 369.22 M513.71 360.64 L513.71 369.22 M572.90 316.30 L672.70 316.30 L672.70 415.30 L572.90 415.30 Z M579.47 415.31 L579.47 372.00 M572.90 373.15 L577.40 373.15 L577.40 409.07 L572.90 409.07 M579.47 415.31 L577.40 409.07 M579.47 372.00 L577.40 373.15 M581.37 415.31 L581.37 372.00 M589.00 415.31 L589.00 372.00 M581.37 409.07 L589.00 409.07 M590.43 415.31 L590.43 372.00 M604.58 316.29 L604.58 358.20 M629.70 415.31 L629.70 372.00 M580.26 322.33 L572.90 322.33 M572.90 357.09 L602.51 357.09 L602.51 322.33 L590.12 322.33 M605.38 409.07 L592.66 409.07 L592.66 373.15 L627.63 373.15 L627.63 409.07 L615.23 409.07 M590.43 415.31 L592.66 409.07 M604.58 316.29 L602.51 322.33 M629.70 415.31 L627.63 409.07 M590.43 372.00 L592.66 373.15 M604.58 358.20 L602.51 357.09 M629.70 372.00 L627.63 373.15 M580.26 316.29 L580.26 344.11 L581.37 345.86 L589.00 345.86 L590.12 344.11 L590.12 316.29 M605.38 415.31 L605.38 386.56 L606.49 384.75 L614.12 384.75 L615.23 386.56 L615.23 415.31 M582.96 316.29 L582.96 336.16 L587.41 336.16 L587.41 316.29 M608.08 415.31 L608.08 394.77 L612.53 394.77 L612.53 415.31 M582.96 336.16 L581.05 345.54 M608.08 394.77 L606.17 385.08 M587.41 336.16 L589.32 345.54 M612.53 394.77 L614.44 385.08 M606.49 316.29 L606.49 358.20 M631.60 415.31 L631.60 372.00 M614.12 316.29 L614.12 358.20 M639.23 415.31 L639.23 372.00 M606.49 322.33 L614.12 322.33 M631.60 409.07 L639.23 409.07 M615.55 316.29 L615.55 358.20 M640.66 415.31 L640.66 372.00 M654.81 316.29 L654.81 358.20 M630.49 322.33 L617.77 322.33 L617.77 357.09 L652.74 357.09 L652.74 322.33 L640.35 322.33 M655.61 409.07 L642.89 409.07 L642.89 373.15 L672.70 373.15 M672.70 409.07 L665.46 409.07 M615.55 316.29 L617.77 322.33 M640.66 415.31 L642.89 409.07 M654.81 316.29 L652.74 322.33 M615.55 358.20 L617.77 357.09 M640.66 372.00 L642.89 373.15 M654.81 358.20 L652.74 357.09 M630.49 316.29 L630.49 344.11 L631.60 345.86 L639.23 345.86 L640.35 344.11 L640.35 316.29 M655.61 415.31 L655.61 386.56 L656.72 384.75 L664.35 384.75 L665.46 386.56 L665.46 415.31 M633.19 316.29 L633.19 336.16 L637.64 336.16 L637.64 316.29 M658.31 415.31 L658.31 394.77 L662.76 394.77 L662.76 415.31 M633.19 336.16 L631.29 345.54 M658.31 394.77 L656.40 385.08 M637.64 336.16 L639.55 345.54 M662.76 394.77 L664.67 385.08 M656.72 316.29 L656.72 358.20 M664.35 316.29 L664.35 358.20 M656.72 322.33 L664.35 322.33 M665.78 316.29 L665.78 358.20 M672.70 322.33 L668.00 322.33 L668.00 357.09 L672.70 357.09 M665.78 316.29 L668.00 322.33 M665.78 358.20 L668.00 357.09 M572.90 358.20 L672.70 358.20 M572.90 372.00 L672.70 372.00 M577.91 358.20 L577.91 372.00 M593.11 358.20 L593.11 372.00 M579.61 360.60 L591.41 360.60 L591.41 370.10 L579.61 370.10 L579.61 360.60 M603.01 358.20 L603.01 372.00 M618.21 358.20 L618.21 372.00 M604.71 360.60 L616.51 360.60 L616.51 370.10 L604.71 370.10 L604.71 360.60 M628.11 358.20 L628.11 372.00 M643.31 358.20 L643.31 372.00 M629.81 360.60 L641.61 360.60 L641.61 370.10 L629.81 370.10 L629.81 360.60 M653.21 358.20 L653.21 372.00 M668.41 358.20 L668.41 372.00 M654.91 360.60 L666.71 360.60 L666.71 370.10 L654.91 370.10 L654.91 360.60"/>
<path stroke-width="0.6" stroke="#444" d="M19.80 83.00 L19.80 95.40 M40.60 83.00 L40.60 95.40 M48.40 83.00 L48.40 95.40 M69.20 83.00 L69.20 95.40 M77.00 83.00 L77.00 95.40 M97.80 83.00 L97.80 95.40 M105.60 83.00 L105.60 95.40 M126.40 83.00 L126.40 95.40 M218.80 72.90 L218.80 85.60 M239.40 72.90 L239.40 85.60 M247.60 72.90 L247.60 85.60 M268.20 72.90 L268.20 85.60 M276.40 72.90 L276.40 85.60 M297.00 72.90 L297.00 85.60 M305.20 72.90 L305.20 85.60 M325.80 72.90 L325.80 85.60 M417.04 81.50 L417.04 96.40 M432.14 81.50 L432.14 96.40 M440.04 81.50 L440.04 96.40 M455.14 81.50 L455.14 96.40 M463.04 81.50 L463.04 96.40 M478.14 81.50 L478.14 96.40 M486.04 81.50 L486.04 96.40 M501.14 81.50 L501.14 96.40 M19.10 221.00 L19.10 233.30 M39.90 221.00 L39.90 233.30 M47.10 221.00 L47.10 233.30 M67.90 221.00 L67.90 233.30 M75.10 221.00 L75.10 233.30 M95.90 221.00 L95.90 233.30 M103.10 221.00 L103.10 233.30 M123.90 221.00 L123.90 233.30 M579.00 221.10 L579.00 232.60 M597.45 221.10 L597.45 232.60 M603.05 221.10 L603.05 232.60 M621.50 221.10 L621.50 232.60 M627.10 221.10 L627.10 232.60 M645.55 221.10 L645.55 232.60 M651.15 221.10 L651.15 232.60 M669.60 221.10 L669.60 232.60 M297.40 356.80 L297.40 372.50 M311.70 356.80 L311.70 372.50 M317.30 356.80 L317.30 372.50 M331.60 356.80 L331.60 372.50 M337.20 356.80 L337.20 372.50 M351.50 356.80 L351.50 372.50 M357.10 356.80 L357.10 372.50 M371.40 356.80 L371.40 372.50"/>
<path stroke-width="0.8" stroke="#333" d="M588.90 81.99 L672.60 81.99 M588.90 95.77 L672.60 95.77"/>
<path stroke-width="2.0" stroke="#555" d="M199.20 219.90 L310.30 219.90"/>
<path stroke-width="0.8" stroke="#444" d="M383.30 219.64 L502.70 219.64 M383.30 233.96 L502.70 233.96"/>
<path stroke-width="0.8" d="M26.90 359.40 L49.70 359.40 M26.90 370.30 L49.70 370.30 M71.30 359.40 L94.10 359.40 M71.30 370.30 L94.10 370.30 M577.91 358.20 L579.61 360.60 M593.11 358.20 L591.41 360.60 M577.91 372.00 L579.61 370.10 M593.11 372.00 L591.41 370.10 M603.01 358.20 L604.71 360.60 M618.21 358.20 L616.51 360.60 M603.01 372.00 L604.71 370.10 M618.21 372.00 L616.51 370.10 M628.11 358.20 L629.81 360.60 M643.31 358.20 L641.61 360.60 M628.11 372.00 L629.81 370.10 M643.31 372.00 L641.61 370.10 M653.21 358.20 L654.91 360.60 M668.41 358.20 L666.71 360.60 M653.21 372.00 L654.91 370.10 M668.41 372.00 L666.71 370.10"/>
<path stroke-width="1.5" stroke="#3a3a3a" d="M162.80 360.39 L193.96 360.39 M162.80 369.53 L193.96 369.53 M204.45 360.39 L235.61 360.39 M204.45 369.53 L235.61 369.53"/>
</g>
<g font-family="Liberation Serif, serif" font-size="20.2" fill="#ad7c35" stroke="#ad7c35" stroke-width="0.55">
<text x="64.10" y="27.70" textLength="7.50" lengthAdjust="spacingAndGlyphs">B</text>
<text x="75.20" y="27.70" textLength="7.30" lengthAdjust="spacingAndGlyphs">A</text>
<text x="262.30" y="27.70" textLength="7.70" lengthAdjust="spacingAndGlyphs">B</text>
<text x="273.50" y="27.70" textLength="7.70" lengthAdjust="spacingAndGlyphs">B</text>
<text x="450.20" y="27.70" textLength="7.60" lengthAdjust="spacingAndGlyphs">B</text>
<text x="461.10" y="27.70" textLength="7.80" lengthAdjust="spacingAndGlyphs">C</text>
<text x="622.20" y="27.70" textLength="7.60" lengthAdjust="spacingAndGlyphs">B</text>
<text x="633.10" y="27.70" textLength="7.80" lengthAdjust="spacingAndGlyphs">D</text>
<text x="61.50" y="166.60" textLength="7.40" lengthAdjust="spacingAndGlyphs">C</text>
<text x="72.60" y="166.60" textLength="7.40" lengthAdjust="spacingAndGlyphs">C</text>
<text x="245.50" y="166.60" textLength="7.90" lengthAdjust="spacingAndGlyphs">D</text>
<text x="256.90" y="166.60" textLength="7.40" lengthAdjust="spacingAndGlyphs">A</text>
<text x="434.10" y="166.60" textLength="7.80" lengthAdjust="spacingAndGlyphs">T</text>
<text x="445.40" y="166.60" textLength="7.10" lengthAdjust="spacingAndGlyphs">A</text>
<text x="615.30" y="166.60" textLength="7.90" lengthAdjust="spacingAndGlyphs">D</text>
<text x="626.40" y="166.60" textLength="7.60" lengthAdjust="spacingAndGlyphs">C</text>
<text x="52.50" y="304.50" textLength="4.90" lengthAdjust="spacingAndGlyphs">I</text>
<text x="62.20" y="304.50" textLength="7.80" lengthAdjust="spacingAndGlyphs">B</text>
<text x="190.30" y="304.50" textLength="6.90" lengthAdjust="spacingAndGlyphs">J</text>
<text x="201.40" y="304.50" textLength="7.60" lengthAdjust="spacingAndGlyphs">A</text>
<text x="325.00" y="304.50" textLength="6.20" lengthAdjust="spacingAndGlyphs">J</text>
<text x="335.90" y="304.50" textLength="7.80" lengthAdjust="spacingAndGlyphs">B</text>
<text x="464.30" y="304.50" textLength="7.60" lengthAdjust="spacingAndGlyphs">D</text>
<text x="475.40" y="304.50" textLength="7.60" lengthAdjust="spacingAndGlyphs">B</text>
<text x="613.10" y="304.50" textLength="8.30" lengthAdjust="spacingAndGlyphs">M</text>
<text x="624.90" y="304.50" textLength="7.40" lengthAdjust="spacingAndGlyphs">A</text>
</g></svg>
</body></html>
